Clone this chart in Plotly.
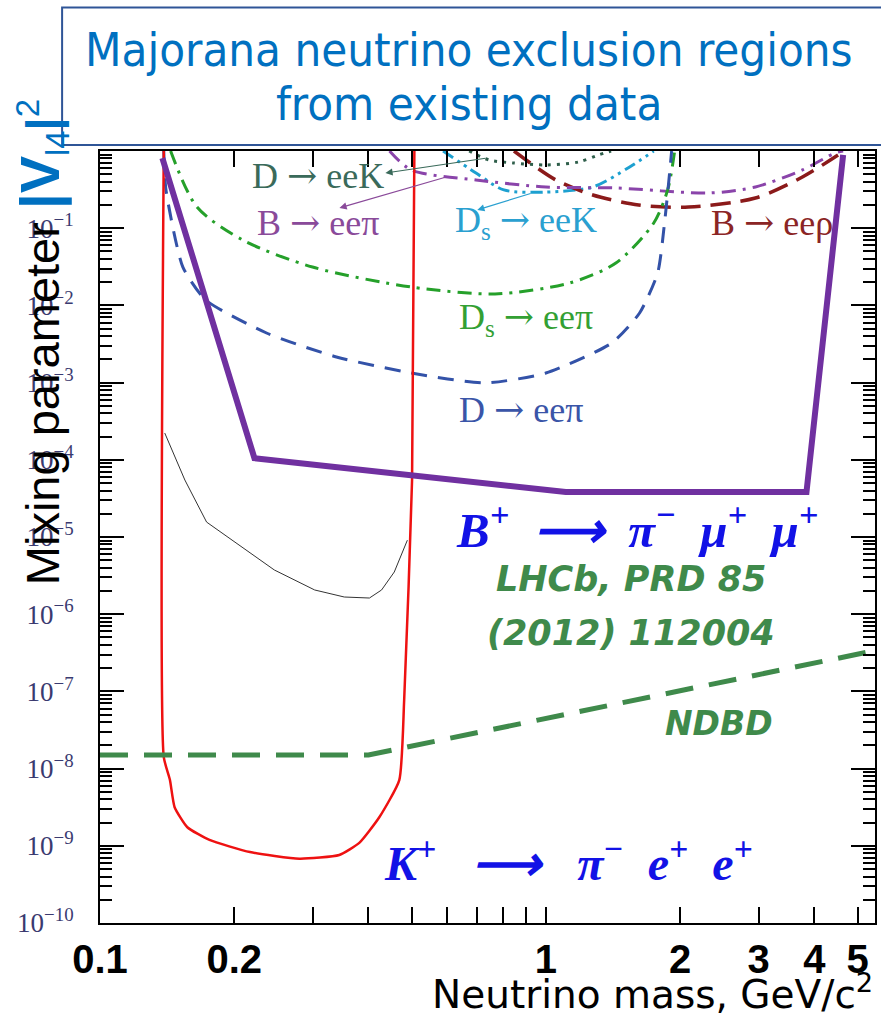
import plotly.graph_objects as go

# ---------------- data ----------------
mass_red = [0.139, 0.139, 0.1435, 0.147, 0.157, 0.176, 0.217, 0.280, 0.344, 0.382, 0.423, 0.469, 0.481, 0.501, 0.507]
u_red = [1.0, 1.41e-8, 7.1e-9, 3.16e-9, 1.74e-9, 1.19e-9, 8.3e-10, 6.8e-10, 7.6e-10, 1.10e-9, 2.34e-9, 7.1e-9, 7.8e-8, 5.5e-5, 1.0]

mass_lhcb = [0.138, 0.222, 1.108, 3.84, 4.64]
u_lhcb = [0.81, 1.05e-4, 3.83e-5, 3.83e-5, 0.89]

mass_black = [0.1397, 0.155, 0.1734, 0.2003, 0.246, 0.303, 0.353, 0.402, 0.428, 0.457, 0.489]
u_black = [2.22e-4, 5.47e-5, 1.56e-5, 8.6e-6, 3.74e-6, 2.06e-6, 1.67e-6, 1.62e-6, 2.06e-6, 3.52e-6, 9.1e-6]

mass_ndbd = [0.1, 0.4, 5.5]
u_ndbd = [1.5e-8, 1.5e-8, 3.4e-7]

mass_ds_epi = [0.144, 0.165, 0.209, 0.2996, 0.499, 0.769, 1.13, 1.435, 1.745, 1.875, 1.944]
u_ds_epi = [1.0, 0.188, 0.0703, 0.0314, 0.0173, 0.0141, 0.0195, 0.0354, 0.1167, 0.313, 1.0]

mass_d_epi = [0.139, 0.1406, 0.1534, 0.1726, 0.2363, 0.339, 0.499, 0.730, 1.0, 1.405, 1.622, 1.781, 1.845, 1.894, 1.914]
u_d_epi = [1.0, 0.313, 0.0314, 0.01175, 0.00439, 0.00215, 0.00133, 0.00099, 0.00133, 0.00326, 0.00798, 0.0263, 0.1167, 0.519, 1.0]

mass_d_ek = [0.673, 0.746, 0.844, 1.0, 1.185, 1.314, 1.40]
u_d_ek = [1.0, 0.764, 0.70, 0.659, 0.721, 0.891, 1.0]

mass_ds_ek = [0.588, 0.697, 0.805, 1.0, 1.274, 1.541, 1.745]
u_ds_ek = [1.0, 0.519, 0.313, 0.294, 0.342, 0.621, 1.0]

mass_b_epi = [0.446, 0.499, 0.697, 1.0, 1.434, 2.327, 2.95, 3.76, 4.45, 4.64]
u_b_epi = [1.0, 0.568, 0.421, 0.342, 0.332, 0.286, 0.342, 0.568, 0.942, 1.0]

mass_b_erho = [0.848, 1.053, 1.274, 1.614, 2.09, 2.95, 3.76, 4.52]
u_b_erho = [1.0, 0.421, 0.269, 0.200, 0.188, 0.246, 0.460, 0.887]

x_tickvals = [0.1, 0.2, 1, 2, 3, 4, 5]
x_ticktext = ["0.1", "0.2", "1", "2", "3", "4", "5"]
x_minor = [0.3, 0.4, 0.5, 0.6, 0.7, 0.8, 0.9]
y_exponents = [-10, -9, -8, -7, -6, -5, -4, -3, -2, -1]
y_tickvals = [10.0 ** e for e in y_exponents]
y_ticktext = ["10<sup>\u2212%d</sup>" % (-e) for e in y_exponents]
y_minor = [k * 10.0 ** e for e in y_exponents for k in range(2, 10)]

# ---------------- figure ----------------
fig = go.Figure()

def add(x, y, color, width, dash="solid", shape="linear", smooth=None):
    line = dict(color=color, width=width, dash=dash, shape=shape)
    if smooth is not None:
        line["smoothing"] = smooth
    fig.add_trace(go.Scatter(x=x, y=y, mode="lines", line=line, hoverinfo="skip", showlegend=False))

add(mass_d_ek, u_d_ek, "#2e5e4a", 3, "3px,6px", "spline", 0.8)
add(mass_ds_ek, u_ds_ek, "#1da0d0", 3, "12px,5px,3px,5px,3px,5px", "spline", 0.8)
add(mass_b_erho, u_b_erho, "#8b1a1a", 3.5, "20px,10px", "spline", 0.8)
add(mass_b_epi, u_b_epi, "#8a44aa", 3, "14px,7px,3px,7px", "spline", 0.8)
add(mass_ds_epi, u_ds_epi, "#25a02a", 3, "14px,7px,3px,7px", "spline", 0.8)
add(mass_d_epi, u_d_epi, "#3352a8", 3, "16px,11px", "spline", 0.6)
add(mass_red, u_red, "#ee1111", 2.5, "solid", "spline", 0.5)
add(mass_black, u_black, "#333333", 1, "solid")
add(mass_ndbd, u_ndbd, "#3f8a4b", 5, "28px,16px")
add(mass_lhcb, u_lhcb, "#7030a0", 6, "solid")

ann = []
def label(lx, ly, text, color, size, family="Liberation Serif", **kw):
    ann.append(dict(x=lx, y=ly, xref="x", yref="y", text=text, showarrow=False,
                    xanchor="center", yanchor="middle",
                    font=dict(family=family, size=size, color=color), **kw))

def arrow(hx, hy, tx, ty, color):
    ann.append(dict(x=hx, y=hy, ax=tx, ay=ty, xref="x", yref="y", axref="x", ayref="y",
                    text="", showarrow=True, arrowhead=2, arrowsize=1.2, arrowwidth=1.2,
                    arrowcolor=color))

arr = " <span style='font-family:DejaVu Serif'>\u2192</span> "
label(-0.512, -0.311, "D" + arr + "eeK", "#3a6a5a", 36)
label(-0.512, -0.920, "B" + arr + "ee\u03c0", "#8a4a9a", 36)
label(-0.0447, -0.920, "D<sub>s</sub>" + arr + "eeK", "#2aa0d0", 36)
label(0.508, -0.920, "B" + arr + "ee\u03c1", "#8b2525", 36)
label(-0.0447, -2.176, "D<sub>s</sub>" + arr + "ee\u03c0", "#33a033", 36)
label(-0.0559, -3.342, "D" + arr + "ee\u03c0", "#3a55a8", 36)
arrow(-0.360, -0.285, -0.132, -0.091, "#3a6a5a")
arrow(-0.463, -0.738, -0.224, -0.337, "#8a4a9a")
arrow(-0.154, -0.764, -0.031, -0.544, "#2aa0d0")

label(0.2036, -4.87, "<b><i>B<sup>+</sup>  \u27f6  \u03c0<sup>\u2212</sup>  \u03bc<sup>+</sup>  \u03bc<sup>+</sup></i></b>", "#1212e6", 49)
label(0.0515, -9.184, "<b><i>K<sup>+</sup>   \u27f6   \u03c0<sup>\u2212</sup>  e<sup>+</sup>  e<sup>+</sup></i></b>", "#1212e6", 48)
label(0.190, -5.544, "<b><i>LHCb, PRD 85</i></b>", "#3f8a4b", 35, "DejaVu Sans")
label(0.190, -6.244, "<b><i>(2012) 112004</i></b>", "#3f8a4b", 35, "DejaVu Sans")
label(0.389, -7.422, "<b><i>NDBD</i></b>", "#3f8a4b", 33, "DejaVu Sans")

# title text (box drawn as shape)
title_font = dict(family="DejaVu Sans Condensed, DejaVu Sans", size=47, color="#0070c0")
ann.append(dict(x=0.476, y=1.131, xref="paper", yref="paper", xanchor="center", yanchor="middle",
                text="Majorana neutrino exclusion regions", showarrow=False, font=title_font))
ann.append(dict(x=0.476, y=1.061, xref="paper", yref="paper", xanchor="center", yanchor="middle",
                text="from existing data", showarrow=False, font=title_font))

# y title
ann.append(dict(x=-0.0746, y=0.7526, xref="paper", yref="paper", textangle=-90,
                xanchor="center", yanchor="middle",
                text="Mixing parameter <span style='color:#0070c0;font-size:56px'><b>|V</b></span>"
                     "<span style='color:#0070c0'><sub>l4</sub><b>|</b><sup>2</sup></span>",
                showarrow=False, font=dict(family="Liberation Sans", size=47, color="black")))
# x title
ann.append(dict(x=1.0, y=-0.089, xref="paper", yref="paper", xanchor="right", yanchor="middle",
                text="Neutrino mass, GeV/c<sup>2</sup>",
                showarrow=False, font=dict(family="DejaVu Sans", size=39, color="black")))

fig.update_layout(
    width=881, height=1016,
    margin=dict(l=100, r=4, t=151, b=93),
    paper_bgcolor="white", plot_bgcolor="white",
    annotations=ann,
    shapes=[dict(type="rect", xref="paper", yref="paper", x0=-0.0489, x1=1.03, y0=1.0078, y1=1.186,
                 fillcolor="white", line=dict(color="#2f5597", width=2), layer="above")],
)
fig.update_xaxes(type="log", range=[-1, 0.738], tickvals=x_tickvals, ticktext=x_ticktext,
                 ticks="inside", ticklen=16, tickwidth=1.5, tickcolor="black",
                 showline=True, linecolor="black", linewidth=2, mirror="ticks", showgrid=False,
                 zeroline=False, ticklabelstandoff=0,
                 tickfont=dict(family="Liberation Sans", size=40, color="black", weight="bold"),
                 minor=dict(tickvals=x_minor, ticks="inside", ticklen=16, tickwidth=1.5,
                            tickcolor="black", showgrid=False))
fig.update_yaxes(type="log", range=[-10, 0], tickvals=y_tickvals, ticktext=y_ticktext,
                 ticks="inside", ticklen=24, tickwidth=2, tickcolor="black",
                 showline=True, linecolor="black", linewidth=2, mirror="ticks", showgrid=False,
                 zeroline=False, ticklabelstandoff=19,
                 tickfont=dict(family="Liberation Serif", size=27, color="#3a3a70"),
                 minor=dict(tickvals=y_minor, ticks="inside", ticklen=12, tickwidth=1.5,
                            tickcolor="black", showgrid=False))

fig.write_html("out.html")
